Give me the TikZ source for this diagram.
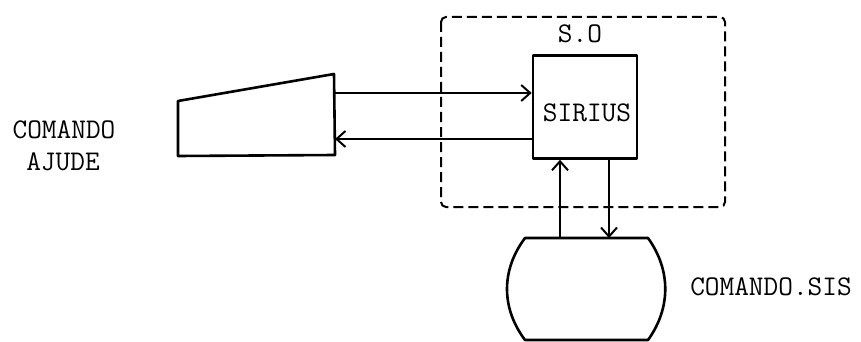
\documentclass[tikz,border=0pt]{standalone}
\usepackage{fontspec}
\usetikzlibrary{arrows.meta}
\tikzset{
  shape line/.style={line width=2.6pt, line join=round},
  frame/.style={line width=2pt, dash pattern=on 10pt off 5pt, rounded corners=5pt},
  conn/.style={line width=2pt, -{Straight Barb[length=9pt,width=16pt,line width=2pt]}},
  lbl/.style={font=\ttfamily\fontsize{28.5}{32}\selectfont, inner sep=0pt},
}
\begin{document}
\begin{tikzpicture}[x=1pt,y=-1pt]
\useasboundingbox (0,0) rectangle (861,342);
% dashed S.O frame
\draw[frame] (441,17) rectangle (725,207);
\node[lbl] (so) at (580,34) {S.O};
% SIRIUS box
\node[shape line, draw, minimum width=104pt, minimum height=103pt, inner sep=0pt] (sirius) at (585,107) {};
\node[lbl] (siriustxt) at (587,113) {SIRIUS};
% keyboard / terminal
\coordinate (kb1) at (178,101);
\coordinate (kb2) at (334,74);
\coordinate (kb3) at (335,155);
\coordinate (kb4) at (178,156);
\draw[shape line] (kb1) -- (kb2) -- (kb3) -- (kb4) -- cycle;
\node[lbl] (cmd1) at (64,130) {COMANDO};
\node[lbl] (cmd2) at (63,162) {AJUDE};
% disk
\coordinate (d1) at (525,238);
\coordinate (d2) at (648,238);
\coordinate (d3) at (648,340);
\coordinate (d4) at (525,340);
\draw[shape line] (d1) -- (d2) .. controls (671,270) and (671,308) .. (d3) -- (d4) .. controls (501,308) and (501,270) .. (d1) -- cycle;
\node[lbl] (sis) at (771,287) {COMANDO.SIS};
% connectors
\coordinate (a1) at (335,93);
\coordinate (a2) at (335,139);
\coordinate (u1) at (560,238);
\coordinate (v1) at (609,238);
\draw[conn] (a1) -- (sirius.west |- a1);
\draw[conn] (sirius.west |- a2) -- (a2);
\draw[conn] (u1) -- (u1 |- sirius.south);
\draw[conn] (v1 |- sirius.south) -- (v1);
\end{tikzpicture}
\end{document}
